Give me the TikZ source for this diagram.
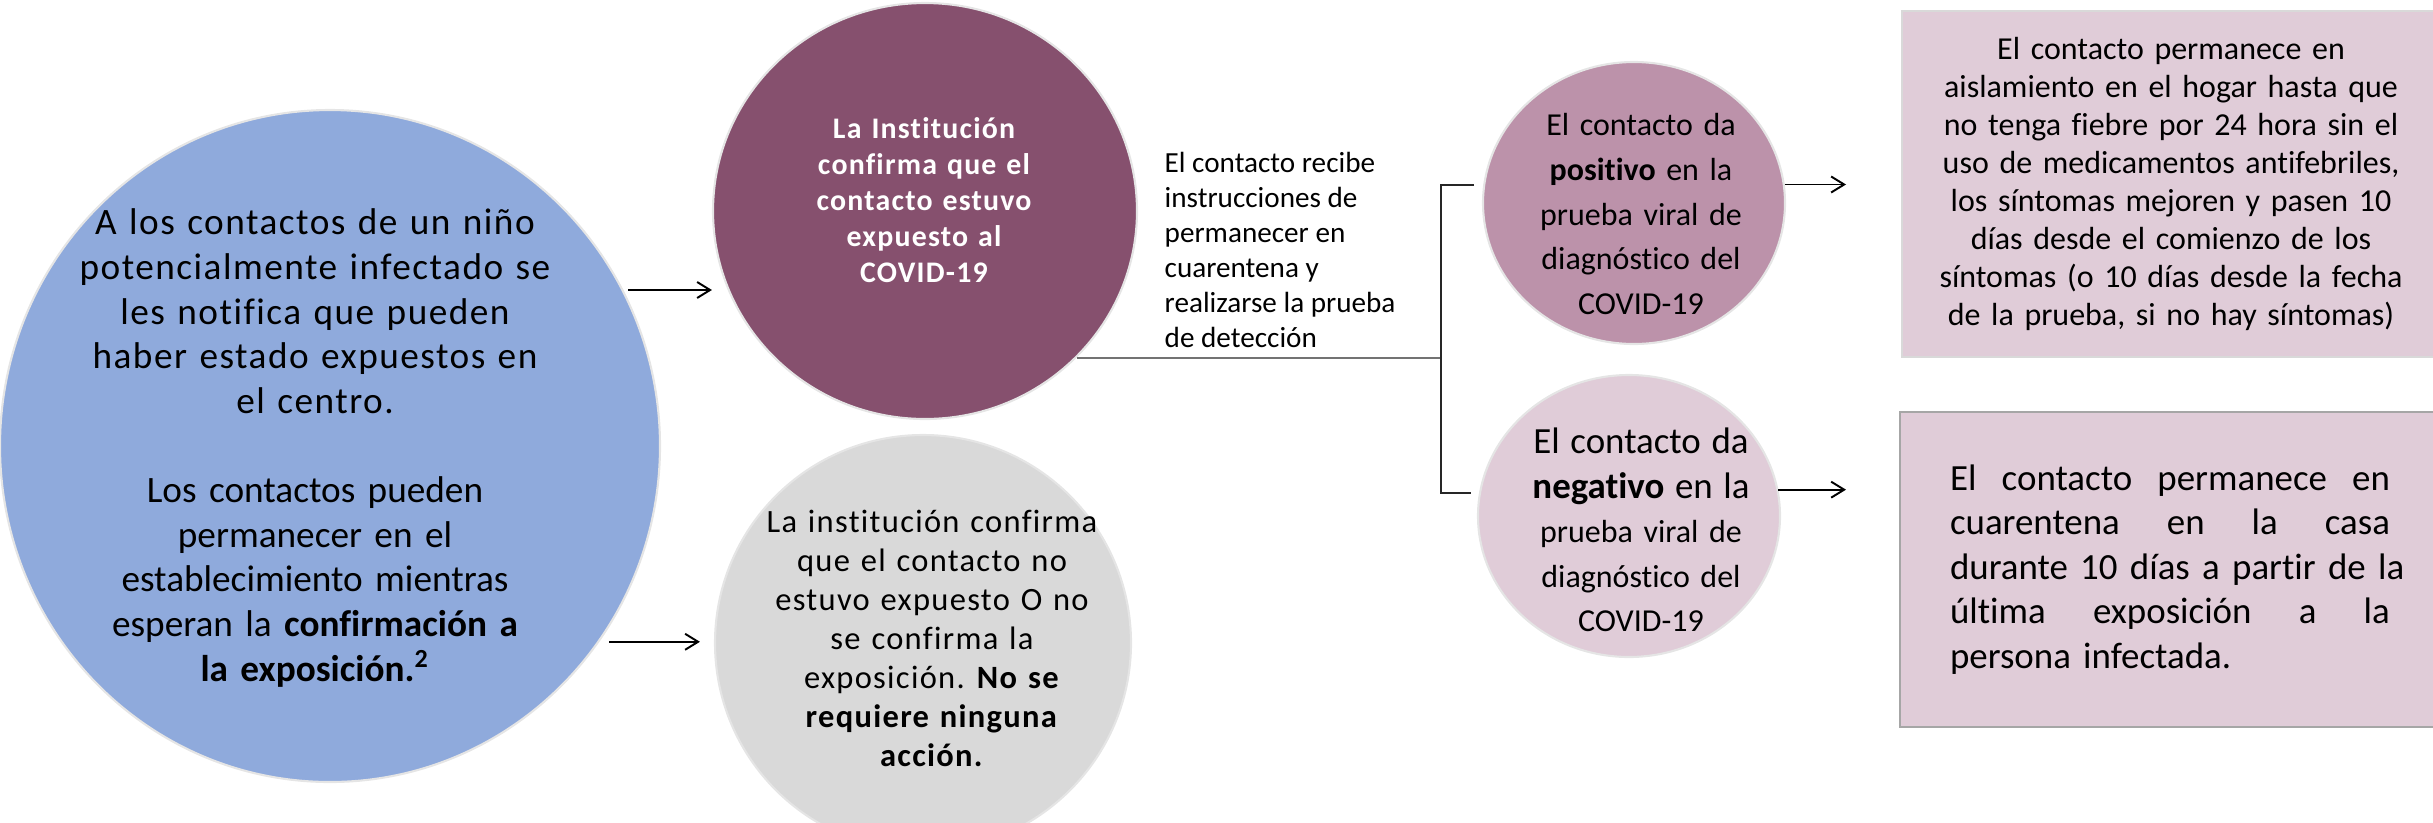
\documentclass[tikz,border=0pt]{standalone}
\usepackage{fontspec}
\setmainfont{Carlito}[Ligatures=NoCommon]
\usetikzlibrary{arrows.meta,shapes.geometric}
\frenchspacing

\definecolor{notifblue}{HTML}{8FAADC}
\definecolor{confplum}{HTML}{86506E}
\definecolor{posmauve}{HTML}{BC92AA}
\definecolor{negpink}{HTML}{E0CCD8}
\definecolor{nogray}{HTML}{D9D9D9}

\begin{document}
\begin{tikzpicture}[
  x=1cm, y=1cm,
  bubble/.style={ellipse, inner sep=0pt, draw=black!10, line width=0.6pt},
  btext/.style={align=center, inner sep=0pt},
  result/.style={draw, rectangle, inner sep=0pt, fill=negpink, text width=#1},
  arrow/.style={-{Straight Barb[length=1.3mm,width=1.6mm]}, line width=0.55pt},
  link/.style={line width=0.5pt, black!55},
  bracket/.style={line width=0.5pt, black!85}
]
\useasboundingbox (0,0) rectangle (24.33,-8.22);

% circles
\node[bubble, fill=notifblue, minimum width=6.6cm, minimum height=6.72cm] (notif) at (3.30,-4.46) {};
\node[btext, text width=5.2cm, font=\fontsize{10.6}{12.7}\selectfont] (notiftxt) at (3.15,-4.48)
  {{\addfontfeatures{LetterSpace=4}A los contactos de un niño\\ potencialmente infectado se\\ les notifica que pueden\\ haber estado expuestos en\\ el centro.}\\[12.7pt]
   Los contactos pueden\\ permanecer en el\\ establecimiento mientras\\ esperan la \textbf{confirmación a}\\ \textbf{la exposición.\textsuperscript{2}}};

\node[bubble, fill=confplum, minimum width=4.24cm, minimum height=4.16cm] (conf) at (9.25,-2.11) {};
\node[btext, text width=2.8cm, text=white, font=\fontsize{8.5}{10.2}\selectfont\bfseries\addfontfeatures{LetterSpace=4}] (conftxt) at (9.24,-2.00)
  {La Institución\\ confirma que el\\ contacto estuvo\\ expuesto al\\ COVID-19};

\node[bubble, fill=nogray, minimum width=4.16cm, minimum height=4.16cm] (nocase) at (9.23,-6.43) {};
\node[btext, text width=3.6cm, font=\fontsize{9.25}{11.1}\selectfont\addfontfeatures{LetterSpace=4}] (nocasetxt) at (9.32,-6.38)
  {La institución confirma\\ que el contacto no\\ estuvo expuesto O no\\ se confirma la\\ exposición. \textbf{No se}\\ \textbf{requiere ninguna}\\ \textbf{acción.}};

\node[align=left, anchor=west, inner sep=0pt, font=\fontsize{8.3}{9.96}\selectfont] (instr) at (11.64,-2.50)
  {El contacto recibe\\ instrucciones de\\ permanecer en\\ cuarentena y\\ realizarse la prueba\\ de detección};

\node[bubble, fill=posmauve, minimum width=3.02cm, minimum height=2.82cm] (pos) at (16.34,-2.03) {};
\node[btext, text width=2.4cm, font=\fontsize{9.1}{12.7}\selectfont] (postxt) at (16.41,-2.14)
  {El contacto da\\ \textbf{positivo} en la\\ prueba viral de\\ diagnóstico del\\ COVID-19};

\node[bubble, fill=negpink, minimum width=3.02cm, minimum height=2.82cm] (neg) at (16.29,-5.16) {};
\node[btext, text width=2.4cm, font=\fontsize{9.1}{12.7}\selectfont] (negtxt) at (16.41,-5.30)
  {{\fontsize{10.5}{12.7}\selectfont El contacto da\\ \textbf{negativo} en la}\\ prueba viral de\\ diagnóstico del\\ COVID-19};

% outcome boxes
\node[result=5.2cm, draw=black!15, line width=0.6pt, minimum width=5.38cm, minimum height=3.465cm, align=center, font=\fontsize{9.1}{10.8}\selectfont] (pbox) at (21.71,-1.84)
  {El contacto permanece en\\ aislamiento en el hogar hasta que\\ no tenga fiebre por 24 hora sin el\\ uso de medicamentos antifebriles,\\ los síntomas mejoren y pasen 10\\ días desde el comienzo de los\\ síntomas (o 10 días desde la fecha\\ de la prueba, si no hay síntomas)};
\node[result=4.40cm, draw=black!35, line width=0.75pt, minimum width=5.40cm, minimum height=3.15cm, align=left, font=\fontsize{10.5}{12.7}\selectfont] (nbox) at (21.70,-5.695)
  {El\hfill contacto\hfill permanece\hfill en\\ cuarentena\hfill en\hfill la\hfill casa\\ \makebox[\linewidth][s]{durante 10 días a partir de la}\\ última\hfill exposición\hfill a\hfill la\\ persona infectada.};

\coordinate (split) at (14.41,-3.55);
\coordinate (postick) at (14.74,-1.85);
\coordinate (negtick) at (14.71,-4.93);
\coordinate (posend) at (18.46,-1.85);
\coordinate (negend) at (18.46,-4.89);

\draw[arrow, shorten <=0.05cm] (notif.28) -- (conf.west |- notif.28);
\draw[arrow, shorten <=0.10cm, shorten >=0.14cm] (notif.-36) -- (nocase.west |- notif.-36);
\draw[link] (conf.-44) -- (conf.-44 -| split);
\draw[bracket] (postick) -- (postick -| split) -- (negtick -| split) -- (negtick);
\draw[arrow] (pos.7) -- (pos.7 -| posend);
\draw[arrow] (neg.10) -- (neg.10 -| negend);
\end{tikzpicture}
\end{document}
